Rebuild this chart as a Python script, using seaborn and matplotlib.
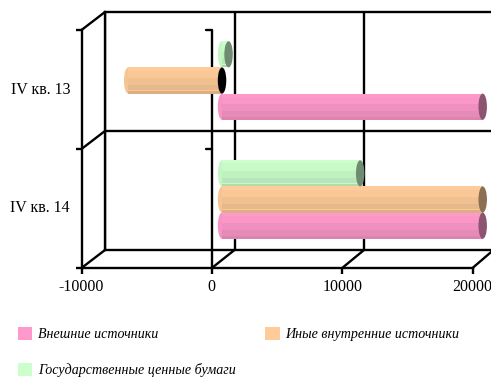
import matplotlib
matplotlib.use("Agg")
import matplotlib.pyplot as plt
from matplotlib.lines import Line2D
from matplotlib.patches import Ellipse, Rectangle, Patch
from matplotlib.transforms import ScaledTranslation
import pandas as pd
import seaborn as sns

categories = ["IV кв. 13", "IV кв. 14"]
series_names = ["Государственные ценные бумаги", "Иные внутренние источники", "Внешние источники"]
gov_securities = [500, 10600]
other_domestic = [-7200, 20000]
external = [20000, 20000]
x_ticks = [-10000, 0, 10000, 20000]
colors = {"Внешние источники": "#FF99CC",
          "Иные внутренние источники": "#FFCC99",
          "Государственные ценные бумаги": "#CCFFCC"}

sns.set_theme(style="white")
plt.rcParams["font.family"] = ["Liberation Serif", "DejaVu Serif"]
W, H = 491, 378
fig = plt.figure(figsize=(W / 100, H / 100), dpi=100, facecolor="white")
LW = 1.7


def axes_px(x0, y0, x1, y1, **kw):
    return fig.add_axes([x0 / W, 1 - y1 / H, (x1 - x0) / W, (y1 - y0) / H], **kw)


# back wall
ax_back = axes_px(105, 12, 493.5, 250, zorder=1)
ax_back.set_xlim(-10000, 20000)
ax_back.set_ylim(1.5, -0.5)
ax_back.set_xticks(x_ticks)
ax_back.set_yticks([0.5])
ax_back.tick_params(length=0, labelbottom=False, labelleft=False)
ax_back.grid(True, color="black", lw=LW)
ax_back.patch.set_alpha(0)
for s in ["top", "left", "bottom", "right"]:
    ax_back.spines[s].set_linewidth(LW)
    ax_back.spines[s].set_color("black")

# front plane with the axes and labels
ax_front = axes_px(81.5, 30, 472.5, 268, zorder=2)
ax_front.patch.set_alpha(0)
ax_front.set_xlim(-10000, 20000)
ax_front.set_ylim(1.5, -0.5)
ax_front.set_xticks(x_ticks)
ax_front.set_xticklabels([str(t) for t in x_ticks], fontsize=11.5, color="black")
ax_front.set_yticks([-0.5, 0.5, 1.5])
ax_front.set_yticklabels([])
ax_front.set_yticks([0, 1], minor=True)
ax_front.set_yticklabels(categories, minor=True, fontsize=11.5, color="black")
ax_front.tick_params(axis="both", which="major", length=4, width=LW, color="black", pad=3.8, left=True, bottom=True)
ax_front.tick_params(axis="y", which="minor", length=0, pad=8.2, left=False)
for lab in ax_front.get_yticklabels(minor=True):
    lab.set_transform(lab.get_transform() + ScaledTranslation(0, 2 / 100, fig.dpi_scale_trans))
sns.despine(ax=ax_front, top=True, right=True)
for s in ["left", "bottom"]:
    ax_front.spines[s].set_linewidth(LW)
    ax_front.spines[s].set_color("black")
ax_front.axvline(0, color="black", lw=LW)
for yy in [-0.5, 0.5]:
    ax_front.plot([-450, 0], [yy, yy], color="black", lw=LW, clip_on=False)

# depth lines joining front plane and back wall
for v, yy in [(-10000, -0.5), (-10000, 0.5), (-10000, 1.5), (0, 1.5), (10000, 1.5), (20000, 1.5)]:
    p0 = ax_front.transData.transform((v, yy))
    p1 = ax_back.transData.transform((v, yy))
    fig.add_artist(Line2D([p0[0] / W, p1[0] / W], [p0[1] / H, p1[1] / H],
                          color="black", lw=LW, transform=fig.transFigure, zorder=1.5))

# bars
df = pd.DataFrame({
    "cat": categories * 3,
    "series": sum([[n] * 2 for n in series_names], []),
    "value": gov_securities + other_domestic + external,
})
ax = axes_px(91.7, 21, 482.7, 259, zorder=3)
ax.patch.set_alpha(0)
sns.barplot(data=df, y="cat", x="value", hue="series", hue_order=series_names,
            palette=colors, order=categories, width=0.66, gap=0, saturation=1,
            dodge=True, legend=False, ax=ax, linewidth=0)
ax.set_xlim(-10000, 20000)
ax.set_ylim(1.5, -0.5)
ax.axis("off")

cap_w = 650
factors = [(0.0, 0.12, 1.0), (0.12, 0.40, 0.98), (0.40, 0.68, 0.94),
           (0.68, 0.88, 0.90), (0.88, 0.91, 0.98), (0.91, 1.0, 0.86)]
bars = [p for p in ax.patches if p.get_width() != 0]
for bar in bars:
    x0, y0, w, h = bar.get_x(), bar.get_y(), bar.get_width(), bar.get_height()
    lo, hi = min(x0, x0 + w), max(x0, x0 + w)
    fc = bar.get_facecolor()[:3]
    top = min(y0, y0 + h)
    hh = abs(h)
    ax.add_patch(Ellipse((lo, top + hh / 2), cap_w, hh, fc=tuple(c * 0.96 for c in fc), ec="none", zorder=3))
    for a, b, f in factors:
        col = tuple(c * f for c in fc)
        ax.add_patch(Rectangle((lo, top + a * hh), hi - lo, (b - a) * hh, fc=col, ec="none", zorder=3.1))
    negative = min(x0, x0 + w) < 0
    end_col = "black" if negative else tuple(c * 0.55 for c in fc)
    ax.add_patch(Ellipse((hi, top + hh / 2), cap_w, hh, fc=end_col, ec="none", zorder=3.2, clip_on=False))

# legend, filled column-wise to read row-wise as in the chart
order = ["Внешние источники", "Государственные ценные бумаги", "Иные внутренние источники"]
handles = [Patch(facecolor=colors[n], edgecolor="none", label=n) for n in order]
leg = fig.legend(handles=handles, ncol=2, loc="upper left", bbox_to_anchor=(14 / W, 1 - 323 / H),
                 bbox_transform=fig.transFigure, frameon=False,
                 prop={"family": "Liberation Serif", "style": "italic", "size": 10.1},
                 handlelength=1.0, handleheight=1.0, handletextpad=0.43,
                 labelspacing=1.57, columnspacing=2.1, borderpad=0.3, borderaxespad=0)
for t in leg.get_texts():
    t.set_color("black")

fig.savefig("out.png", dpi=100, facecolor="white")
